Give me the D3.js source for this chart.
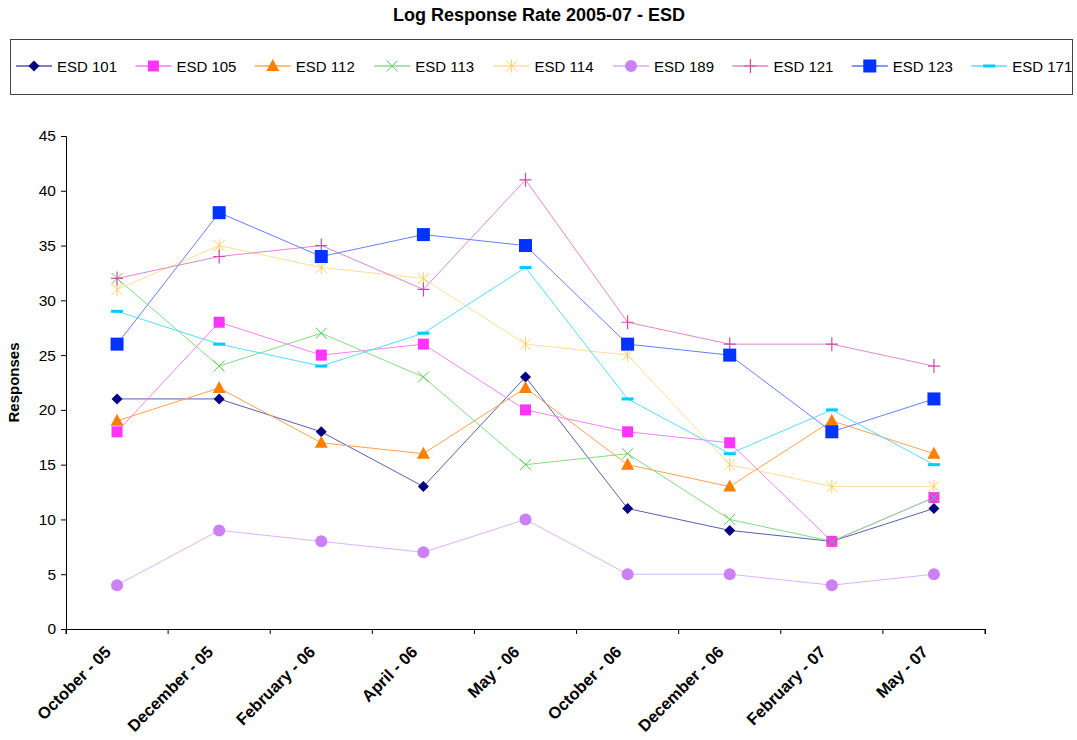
<!DOCTYPE html>
<html>
<head>
<meta charset="utf-8">
<script src="https://cdn.jsdelivr.net/npm/d3@7"></script>
<style>
    body { margin: 0; background: #fff; }
    svg { font-family: "Liberation Sans", Arial, sans-serif; }
</style>
</head>
<body>
<div id="chart"></div>
<script>
const categories = ["October - 05", "December - 05", "February - 06", "April - 06", "May - 06",
    "October - 06", "December - 06", "February - 07", "May - 07"];
const seriesNames = ["ESD 101", "ESD 105", "ESD 112", "ESD 113", "ESD 114", "ESD 189", "ESD 121", "ESD 123", "ESD 171"];
const esd101 = [21, 21, 18, 13, 23, 11, 9, 8, 11];
const esd105 = [18, 28, 25, 26, 20, 18, 17, 8, 12];
const esd112 = [19, 22, 17, 16, 22, 15, 13, 19, 16];
const esd113 = [32, 24, 27, 23, 15, 16, 10, 8, 12];
const esd114 = [31, 35, 33, 32, 26, 25, 15, 13, 13];
const esd189 = [4, 9, 8, 7, 10, 5, 5, 4, 5];
const esd121 = [32, 34, 35, 31, 41, 28, 26, 26, 24];
const esd123 = [26, 38, 34, 36, 35, 26, 25, 18, 21];
const esd171 = [29, 26, 24, 27, 33, 21, 16, 20, 15];
const yTicks = [0, 5, 10, 15, 20, 25, 30, 35, 40, 45];

const seriesValues = [esd101, esd105, esd112, esd113, esd114, esd189, esd121, esd123, esd171];
const colors = ["#000080", "#ff33ff", "#ff8000", "#55cc55", "#ffcc66", "#cc80f5", "#d04aa8", "#0033ff", "#00ccff"];
const lineColors = ["#5560b0", "#ff80ff", "#ffa050", "#80dd80", "#ffdd99", "#e0b0ff", "#e088c8", "#6680ff", "#55ddff"];
const markers = ["diamond", "square", "triangle", "x", "star", "circle", "plus", "bigsquare", "dash"];

const series = seriesNames.map((name, i) => ({ name, values: seriesValues[i], color: colors[i], line: lineColors[i], marker: markers[i] }));

const width = 1077, height = 740;
const margin = { top: 136, right: 92, bottom: 111, left: 66 };

const svg = d3.select("#chart").append("svg")
    .attr("width", width)
    .attr("height", height);

const x = d3.scaleBand().domain(categories).range([margin.left, width - margin.right]);
const y = d3.scaleLinear().domain([0, 45]).range([height - margin.bottom, margin.top]);

// title
svg.append("text")
    .attr("x", 539).attr("y", 21)
    .attr("text-anchor", "middle")
    .style("font-size", "18px").style("font-weight", "bold")
    .text("Log Response Rate 2005-07 - ESD");

function drawMarker(g, type, color) {
    if (type === "diamond") {
        g.append("path").attr("d", "M0,-5.5L5.5,0L0,5.5L-5.5,0Z").attr("fill", color);
    } else if (type === "square") {
        g.append("rect").attr("x", -5.5).attr("y", -5.5).attr("width", 11).attr("height", 11).attr("fill", color);
    } else if (type === "bigsquare") {
        g.append("rect").attr("x", -6.5).attr("y", -6.5).attr("width", 13).attr("height", 13).attr("fill", color);
    } else if (type === "triangle") {
        g.append("path").attr("d", "M0,-7L6.5,5L-6.5,5Z").attr("fill", color);
    } else if (type === "x") {
        g.append("path").attr("d", "M-5.5,-5.5L5.5,5.5M-5.5,5.5L5.5,-5.5").attr("stroke", color).attr("stroke-width", 1);
    } else if (type === "star") {
        g.append("path").attr("d", "M-5.5,-5.5L5.5,5.5M-5.5,5.5L5.5,-5.5M0,-6.5L0,6.5").attr("stroke", color).attr("stroke-width", 1);
    } else if (type === "circle") {
        g.append("circle").attr("r", 6).attr("fill", color);
    } else if (type === "plus") {
        g.append("path").attr("d", "M-6,0L6,0M0,-7L0,7").attr("stroke", color).attr("stroke-width", 1.2);
    } else if (type === "dash") {
        g.append("rect").attr("x", -6).attr("y", -1.5).attr("width", 12).attr("height", 3).attr("fill", color);
    }
}

// legend
const legend = svg.append("g");
legend.append("rect")
    .attr("x", 10.5).attr("y", 39.5).attr("width", 1062).attr("height", 55)
    .attr("fill", "#fff").attr("stroke", "#444").attr("stroke-width", 1);

series.forEach((s, i) => {
    const lx = 16 + i * 119.4;
    const item = legend.append("g").attr("transform", `translate(${lx}, 66)`);
    item.append("line").attr("x1", 0).attr("x2", 36).attr("y1", 0).attr("y2", 0)
        .attr("stroke", s.color).attr("stroke-width", 1);
    drawMarker(item.append("g").attr("transform", "translate(18,0)"), s.marker, s.color);
    item.append("text").attr("x", 41).attr("y", 5.5)
        .style("font-size", "15px").text(s.name);
});

// axes
const yAxis = svg.append("g")
    .attr("transform", `translate(${margin.left}, 0)`)
    .call(d3.axisLeft(y).tickValues(yTicks).tickSize(5).tickPadding(5));
yAxis.selectAll("text").style("font-size", "15.5px").attr("fill", "#000");
yAxis.selectAll("line, path").attr("stroke", "#000");

const xAxis = svg.append("g")
    .attr("transform", `translate(0, ${height - margin.bottom})`)
    .call(d3.axisBottom(x).tickSize(5).tickFormat(""));
xAxis.selectAll("line").attr("stroke", "#000").attr("transform", `translate(${-x.bandwidth() / 2},0)`);
xAxis.select(".domain").attr("stroke", "#000");
svg.append("line")
    .attr("x1", x.range()[1]).attr("x2", x.range()[1])
    .attr("y1", y(0)).attr("y2", y(0) + 5).attr("stroke", "#000");

svg.selectAll(".xlabel")
    .data(categories)
    .enter().append("text")
    .attr("class", "xlabel")
    .attr("text-anchor", "end")
    .attr("transform", d => `translate(${x(d) + x.bandwidth() / 2 - 5}, ${y(0) + 24}) rotate(-45)`)
    .style("font-size", "16.5px").style("font-weight", "bold")
    .text(d => d);

// y label
svg.append("text")
    .attr("transform", `translate(19, ${y(22.5)}) rotate(-90)`)
    .attr("text-anchor", "middle")
    .style("font-size", "15px").style("font-weight", "bold")
    .text("Responses");

// lines
const line = d3.line()
    .x((d, i) => x(categories[i]) + x.bandwidth() / 2)
    .y(d => y(d));

series.forEach(s => {
    svg.append("path")
        .datum(s.values)
        .attr("fill", "none")
        .attr("stroke", s.line)
        .attr("stroke-width", 1)
        .attr("d", line);
});

series.forEach(s => {
    s.values.forEach((v, i) => {
        const g = svg.append("g")
            .attr("transform", `translate(${x(categories[i]) + x.bandwidth() / 2}, ${y(v)})`);
        drawMarker(g, s.marker, s.color);
    });
});
</script>
</body>
</html>
